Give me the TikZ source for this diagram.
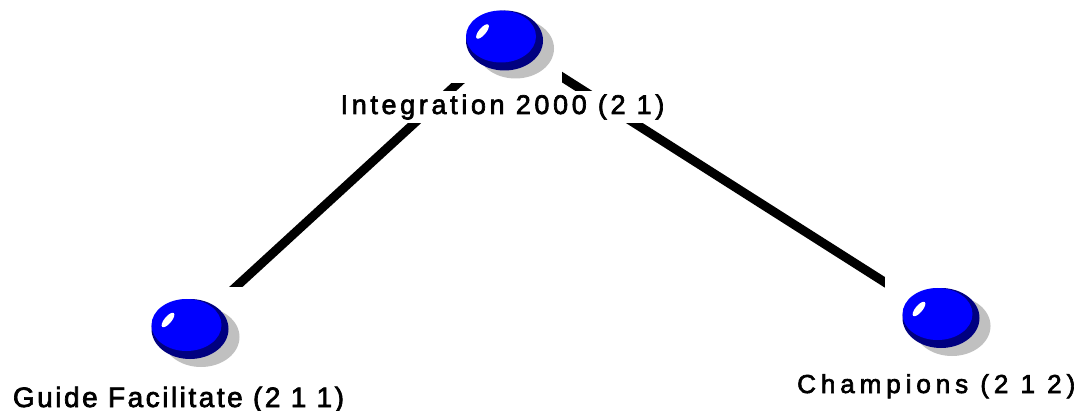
\documentclass[tikz,border=0pt]{standalone}
\usepackage{fontspec}
\setmainfont{Liberation Sans}[FakeBold=2.5]
\definecolor{ballblue}{HTML}{0000FF}
\definecolor{balldark}{HTML}{000080}
\definecolor{shadowgrey}{HTML}{C0C0C0}
\begin{document}
\begin{tikzpicture}[x=1pt,y=-1pt,
  link/.style={line width=9pt, black},
  cover/.style={fill=white, draw=none},
  lab/.style={fill=white, inner xsep=2pt, inner ysep=3.5pt},
  ball/.pic={
    \fill[shadowgrey] (11,8) ellipse [x radius=38.5pt, y radius=30pt];
    \fill[balldark] (0,0) ellipse [x radius=38.5pt, y radius=30pt];
    \fill[ballblue] (-3.5,-4) ellipse [x radius=35pt, y radius=26pt];
    \fill[white, rotate around={50:(-22,-9)}] (-22,-9) ellipse [x radius=9pt, y radius=3.5pt];
  }]
\useasboundingbox (0,0) rectangle (1075,411);
\fill[white] (0,0) rectangle (1075,411);
% centres of the three nodes
\coordinate (top) at (504.5,40.5);
\coordinate (left) at (190,329);
\coordinate (right) at (941,318);
% connectors
\draw[link] (top) -- (left);
\draw[link] (top) -- (right);
% icon areas
\fill[cover] (446,0) rectangle (562,83);
\fill[cover] (135,287) rectangle (250,372);
\fill[cover] (885,268) rectangle (1000,365);
% balls
\pic at (top) {ball};
\pic at (left) {ball};
\pic at (right) {ball};
% labels
\node[lab, anchor=base, font=\fontsize{27}{30}\selectfont] (toplab) at (502.5,114)
  {\addfontfeature{LetterSpace=13.5}Integration 2000 (2 1)};
\node[lab, anchor=base, font=\fontsize{28}{30}\selectfont] (leftlab) at (178.5,407)
  {\addfontfeature{LetterSpace=9}Guide Facilitate (2 1 1)};
\node[lab, anchor=base west, inner xsep=0pt, font=\fontsize{26}{30}\selectfont] (rightlab) at (797,393)
  {\addfontfeature{LetterSpace=19}Champions (2 1 2)};
\end{tikzpicture}
\end{document}
